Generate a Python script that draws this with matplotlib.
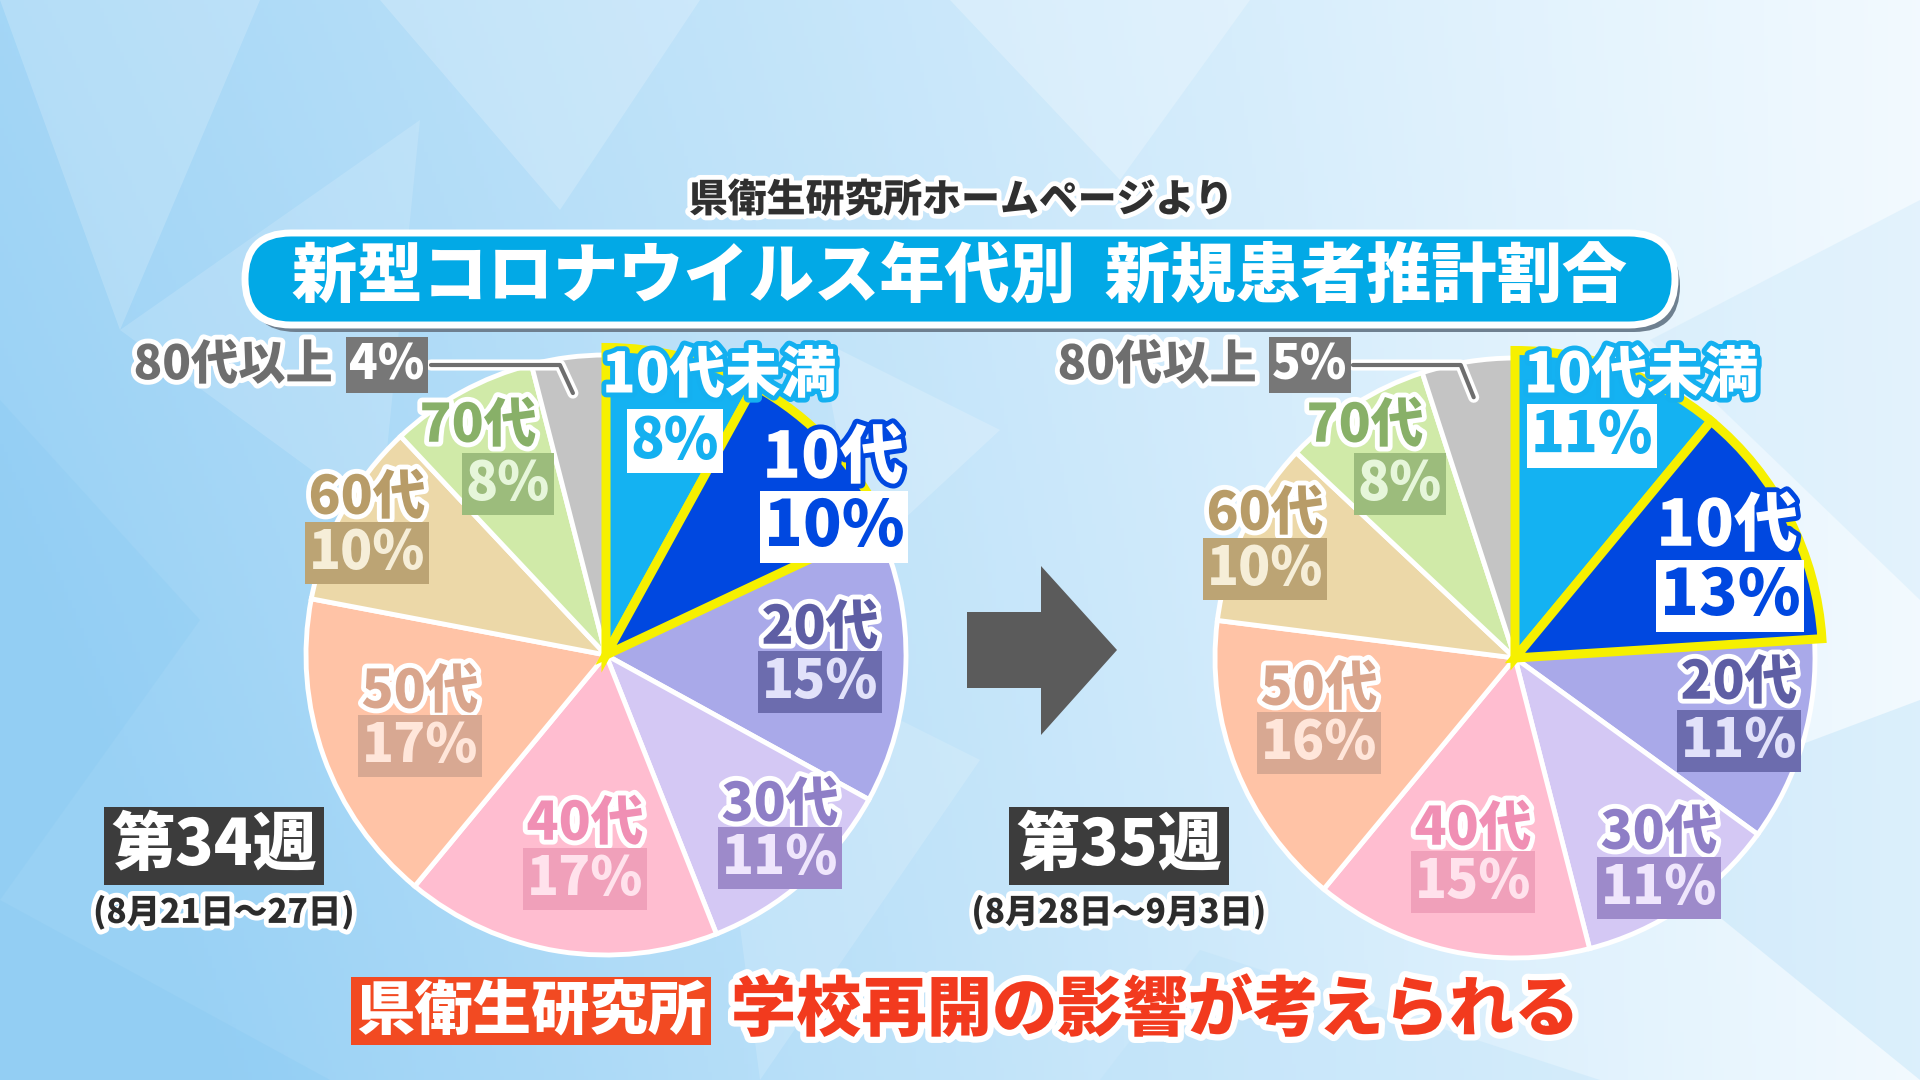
import numpy as np
import matplotlib
matplotlib.use("Agg")
import matplotlib.pyplot as plt
import matplotlib.patheffects as pe
from matplotlib.patches import FancyBboxPatch, Polygon

plt.rcParams['font.family'] = ['Noto Sans CJK JP', 'DejaVu Sans']
W = 'heavy'

# --- data ---
ages = ['10代未満', '10代', '20代', '30代', '40代', '50代', '60代', '70代', '80代以上']
week34 = [8, 10, 15, 11, 17, 17, 10, 8, 4]
week35 = [11, 13, 11, 11, 15, 16, 10, 8, 5]
week_titles = ['第34週', '第35週']
week_dates = ['(8月21日～27日)', '(8月28日～9月3日)']
source_note = '県衛生研究所ホームページより'
title = '新型コロナウイルス年代別  新規患者推計割合'
caption_tag = '県衛生研究所'
caption = '学校再開の影響が考えられる'

# --- styles ---
slice_colors = ['#14b2f2', '#0048e0', '#a9a9e9', '#d4c8f4', '#ffbdd0',
                '#ffc3a6', '#ecd8a8', '#d0eaa8', '#c4c4c4']
name_colors = ['#14b0f0', '#0048e0', '#5e5ea4', '#8e7ec6', '#f08fb4',
               '#d9a58c', '#b89c68', '#88b068', '#6e6e6e']
box_colors = ['white', 'white', '#6c6cae', '#9d8aca', '#f0a0ba',
              '#d8a892', '#bca474', '#9cbc7c', '#777777']
box_text = ['#14b0f0', '#0048e0', '#e2e2fa', '#efe6fc', '#ffe2ec',
            '#ffe6da', '#f6eed8', '#e6f6da', 'white']

# layout in pixels (top-down)
centers = [(606, 655), (1515, 658)]
R = 300
label_xy = [
    [((719, 376), (675, 441)), ((833, 459), (834, 527)), ((820, 628), (820, 682)),
     ((780, 805), (780, 858)), ((585, 824), (585, 879)), ((420, 692), (420, 746)),
     ((367, 498), (367, 553)), ((478, 426), (508, 484)), ((233, 365), (387, 365))],
    [((1641, 376), (1592, 436)), ((1727, 527), (1730, 596)), ((1739, 683), (1739, 741)),
     ((1659, 833), (1659, 888)), ((1473, 829), (1473, 882)), ((1319, 689), (1319, 743)),
     ((1265, 514), (1265, 569)), ((1365, 426), (1400, 484)), ((1157, 365), (1310, 365))],
]
leader_start = [431, 1353]
week_xy = [(214, 846), (1119, 846)]

fig = plt.figure(figsize=(19.2, 10.8), dpi=100)
ax = fig.add_axes([0, 0, 1, 1])

# background: pale blue faceted gradient
yy, xx = np.mgrid[0:1:270j, 0:1:480j]
mix = np.clip(0.05 + 0.95 * xx - 0.25 * (yy - 0.3) * (1 - xx), 0, 1)[..., None]
blue = np.array([0.60, 0.82, 0.96])
white = np.array([0.95, 0.98, 1.0])
ax.imshow(blue * (1 - mix) + white * mix, extent=[0, 1920, 1080, 0], zorder=0)
facets = [
    ([(0, 0), (260, 0), (120, 330)], 'white', 0.18),
    ([(120, 330), (420, 120), (380, 520)], 'white', 0.15),
    ([(0, 400), (200, 620), (0, 900)], '#7cc4f0', 0.18),
    ([(380, 0), (700, 0), (560, 210)], 'white', 0.2),
    ([(0, 900), (330, 1080), (0, 1080)], '#7cc4f0', 0.2),
    ([(700, 620), (980, 760), (760, 1080)], 'white', 0.16),
    ([(950, 0), (1250, 0), (1120, 180)], 'white', 0.25),
    ([(1650, 340), (1920, 200), (1920, 600)], '#b8e0f8', 0.25),
    ([(1600, 820), (1920, 700), (1920, 1080)], '#a8d8f6', 0.3),
    ([(1200, 950), (1600, 1080), (1100, 1080)], '#b8e0f8', 0.3),
    ([(820, 340), (1000, 430), (860, 560)], 'white', 0.2),
]
for pts, c, a in facets:
    ax.add_patch(Polygon(pts, closed=True, fc=c, ec='none', alpha=a, zorder=1))

white_edge = [pe.withStroke(linewidth=7, foreground='white')]

# source note and title banner
ax.text(961, 200, source_note, fontsize=28, fontweight=W, color='#303030',
        ha='center', va='center', path_effects=white_edge, zorder=5)
ax.add_patch(FancyBboxPatch((250, 240), 1430, 92, boxstyle='round,pad=0,rounding_size=46',
                            fc='#6f8090', ec='none', zorder=3))
ax.add_patch(FancyBboxPatch((245, 233), 1430, 92, boxstyle='round,pad=0,rounding_size=46',
                            fc='#02a9e6', ec='white', lw=5, zorder=4))
ax.text(960, 277, title, fontsize=47, fontweight=W, color='white',
        ha='center', va='center', zorder=5)

# pies
for k, vals in enumerate([week34, week35]):
    cx, cy = centers[k]
    wedges, _ = ax.pie(vals, colors=slice_colors, startangle=-90, counterclock=True,
                       center=(cx, cy), radius=R, frame=True,
                       wedgeprops=dict(edgecolor='white', linewidth=3.5))
    for w in wedges:
        w.set_zorder(3)
    for w in wedges[:2]:
        w.set_radius(R * 1.025)
        w.set_edgecolor('#f6f000')
        w.set_linewidth(6.5)
        w.set_joinstyle('miter')
        w.set_zorder(3.5)

    for i, (name, v) in enumerate(zip(ages, vals)):
        (x1, y1), (x2, y2) = label_xy[k][i]
        if i < 2:
            size = 40 if i == 0 else 46
            ax.text(x1, y1, name, fontsize=size, fontweight=W, color='white',
                    ha='center', va='center', zorder=6,
                    path_effects=[pe.withStroke(linewidth=7, foreground=name_colors[i])])
            ax.text(x2, y2, f'{v}%', fontsize=size, fontweight=W, color=box_text[i],
                    ha='center', va='center', zorder=6,
                    bbox=dict(boxstyle='square,pad=0.06', fc=box_colors[i], ec='none'))
        else:
            size = 34 if i == 8 else 38
            ax.text(x1, y1, name, fontsize=size, fontweight=W, color=name_colors[i],
                    ha='center', va='center', zorder=6, path_effects=white_edge)
            ax.text(x2, y2, f'{v}%', fontsize=size, fontweight=W, color=box_text[i],
                    ha='center', va='center', zorder=6,
                    bbox=dict(boxstyle='square,pad=0.08', fc=box_colors[i], ec='none'))

    # leader line for the smallest slice
    mid = np.radians(-90 + 3.6 * (sum(vals) - vals[-1] / 2))
    ex, ey = cx + 0.88 * R * np.cos(mid), cy + 0.88 * R * np.sin(mid)
    ly = label_xy[k][8][1][1]
    ax.plot([leader_start[k], ex - 13, ex], [ly, ly, ey], color='#6e6e6e', lw=3,
            solid_capstyle='round', zorder=5,
            path_effects=[pe.withStroke(linewidth=8, foreground='white')])

    # week tags
    wx, wy = week_xy[k]
    ax.text(wx, wy, week_titles[k], fontsize=46, fontweight=W, color='white',
            ha='center', va='center', zorder=6,
            bbox=dict(boxstyle='square,pad=0.12', fc='#3c3c3c', ec='none'))
    ax.text(wx + 10 * (k == 0), wy + 66, week_dates[k], fontsize=24, fontweight=W,
            color='#2c2c2c', ha='center', va='center', zorder=6, path_effects=white_edge)

# arrow between the pies
ax.add_patch(Polygon([(967, 612), (1041, 612), (1041, 566), (1117, 650),
                      (1041, 735), (1041, 688), (967, 688)],
                     closed=True, fc='#5b5b5b', ec='none', zorder=4))

# bottom caption
ax.text(531, 1011, caption_tag, fontsize=42, fontweight=W, color='white',
        ha='center', va='center', zorder=6,
        bbox=dict(boxstyle='square,pad=0.08', fc='#f24a22', ec='none'))
ax.text(1155, 1011, caption, fontsize=47, fontweight=W, color='#f23a1e',
        ha='center', va='center', zorder=6,
        path_effects=[pe.withStroke(linewidth=9, foreground='white')])

ax.set_xlim(0, 1920)
ax.set_ylim(1080, 0)
ax.set_aspect('auto')
ax.axis('off')

fig.savefig('out.png', dpi=100)
